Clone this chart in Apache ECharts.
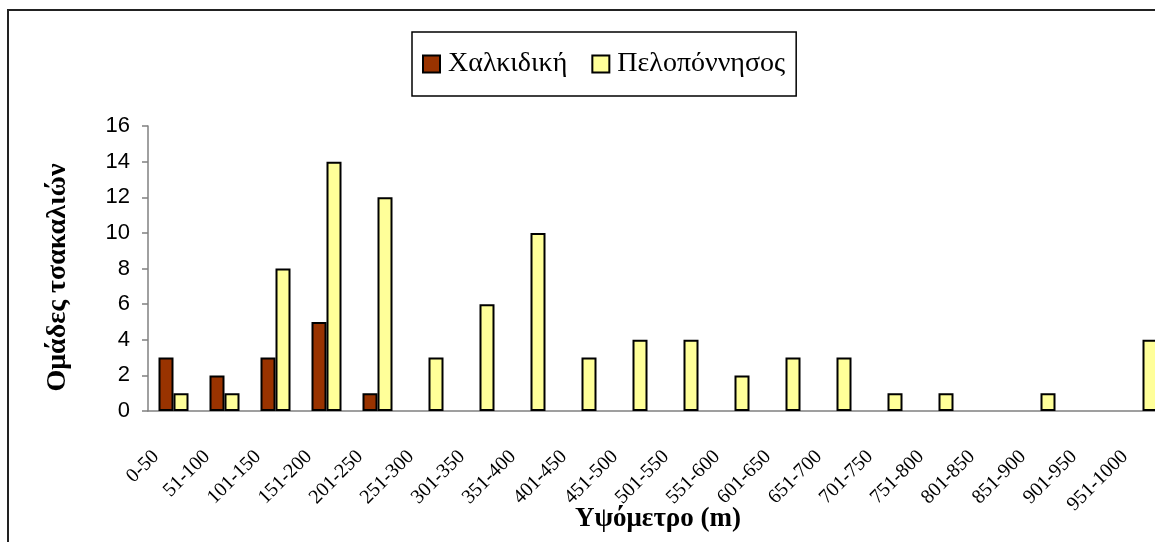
<!DOCTYPE html>
<html>
<head>
<meta charset="utf-8">
<script src="https://cdn.jsdelivr.net/npm/echarts@6/dist/echarts.min.js"></script>
<style>
  html, body { margin: 0; padding: 0; background: #fff; }
  #chart { width: 1155px; height: 542px; }
</style>
</head>
<body>
<div id="chart"></div>
<script>
// κατηγορίες υψομέτρου
const altitudes = ['0-50', '51-100', '101-150', '151-200', '201-250', '251-300', '301-350',
  '351-400', '401-450', '451-500', '501-550', '551-600', '601-650', '651-700', '701-750',
  '751-800', '801-850', '851-900', '901-950', '951-1000']
// ομάδες τσακαλιών ανά περιοχή (null = καμία στήλη)
const chalkidiki = [3, 2, 3, 5, 1, null, null, null, null, null, null, null, null, null, null, null, null, null, null, null]
const peloponnisos = [1, 1, 8, 14, 12, 3, 6, 10, 3, 4, 4, 2, 3, 3, 1, 1, null, 1, null, 4]
const yTicks = { min: 0, max: 16, interval: 2 }

const chart = echarts.init(document.getElementById('chart'))

const serif = 'Liberation Serif'
const sans = 'Liberation Sans'

const option = {
  animation: false,
  backgroundColor: '#fff',
  // εξωτερικό πλαίσιο
  graphic: [
    {
      type: 'rect',
      shape: { x: 8, y: 10, width: 1200, height: 600 },
      style: { fill: 'none', stroke: '#222', lineWidth: 2 },
      silent: true
    }
  ],
  legend: {
    left: 412,
    top: 32,
    padding: [18, 11, 18, 10],
    borderColor: '#000',
    borderWidth: 1.5,
    itemWidth: 17,
    itemHeight: 17,
    itemGap: 24,
    icon: 'rect',
    textStyle: { fontFamily: serif, fontSize: 28, color: '#000', padding: [0, 0, 0, 3] }
  },
  // το διάγραμμα συνεχίζει λίγο έξω από τη δεξιά άκρη
  grid: {
    left: 148,
    top: 126,
    width: 1020,
    height: 285,
    outerBoundsMode: 'none'
  },
  xAxis: {
    type: 'category',
    data: altitudes,
    name: 'Υψόμετρο (m)',
    nameLocation: 'middle',
    nameGap: 95,
    nameMoveOverlap: false,
    nameTextStyle: { fontFamily: serif, fontSize: 27, fontWeight: 'bold', color: '#000' },
    axisLine: { lineStyle: { color: '#808080', width: 1.5 } },
    axisTick: { length: 7, lineStyle: { color: '#808080', width: 1.5 } },
    axisLabel: {
      interval: 0,
      rotate: 45,
      margin: 25,
      padding: [0, 25, 0, 0],
      fontFamily: serif,
      fontSize: 20,
      color: '#000'
    }
  },
  yAxis: {
    type: 'value',
    min: yTicks.min,
    max: yTicks.max,
    interval: yTicks.interval,
    name: 'Ομάδες τσακαλιών',
    nameLocation: 'middle',
    nameGap: 76,
    nameRotate: 90,
    nameMoveOverlap: false,
    nameTextStyle: { fontFamily: serif, fontSize: 28, fontWeight: 'bold', color: '#000', padding: [0, 18, 0, 0] },
    splitLine: { show: false },
    axisLine: { show: true, lineStyle: { color: '#808080', width: 1.5 } },
    axisTick: { show: true, length: 6, lineStyle: { color: '#808080', width: 1.5 } },
    axisLabel: { margin: 18, fontFamily: sans, fontSize: 22, color: '#000' }
  },
  series: [
    {
      name: 'Χαλκιδική',
      type: 'bar',
      data: chalkidiki,
      barWidth: 15,
      barGap: '0%',
      itemStyle: { color: '#993300', borderColor: '#000', borderWidth: 2 }
    },
    {
      name: 'Πελοπόννησος',
      type: 'bar',
      data: peloponnisos,
      barWidth: 15,
      barGap: '0%',
      itemStyle: { color: '#FFFF99', borderColor: '#000', borderWidth: 2 }
    }
  ]
}

chart.setOption(option)
</script>
</body>
</html>
